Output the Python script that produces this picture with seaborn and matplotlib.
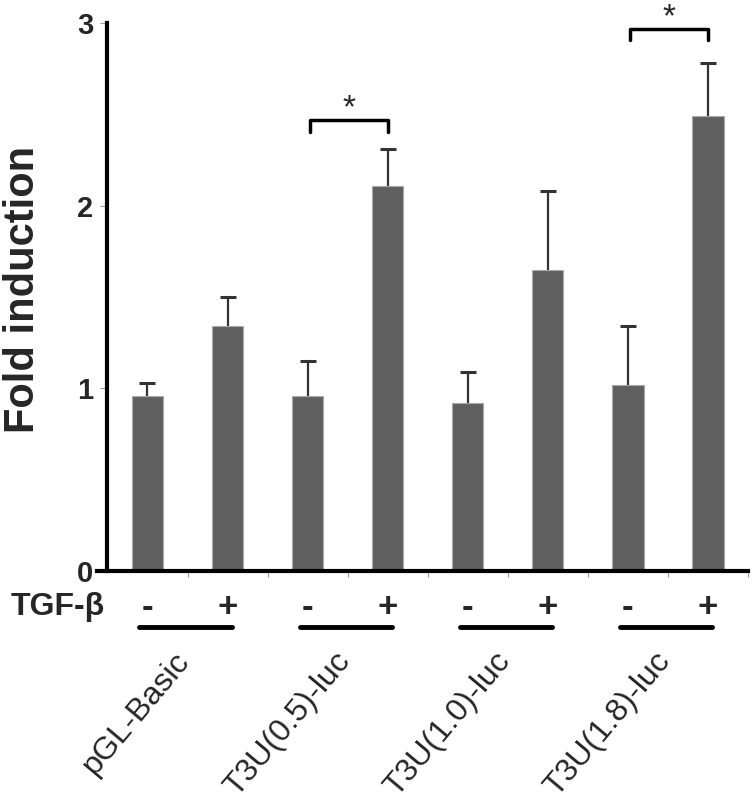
import numpy as np
import pandas as pd
import matplotlib
matplotlib.use("Agg")
import matplotlib.pyplot as plt
import seaborn as sns

# luciferase data, fold induction (mean and upper error)
constructs = ["pGL-Basic", "T3U(0.5)-luc", "T3U(1.0)-luc", "T3U(1.8)-luc"]
tgf = ["-", "+"]
means = [0.96, 1.34, 0.96, 2.11, 0.92, 1.65, 1.02, 2.49]
errs = [0.07, 0.16, 0.19, 0.20, 0.17, 0.43, 0.32, 0.29]
yticks = [0, 1, 2, 3]
# significant pairs (bar index)
sig_pairs = [(2, 3), (6, 7)]

bars = [c + " " + t for c in constructs for t in tgf]
df = pd.DataFrame({"bar": bars, "fold": means, "err": errs})

sns.set_style("ticks")
plt.rcParams['font.family'] = ['Liberation Sans', 'DejaVu Sans']

fig = plt.figure(figsize=(7.55, 8.05), dpi=100)
ax = fig.add_axes([0.1285, 0.2907, 0.8623, 0.6807])

sns.barplot(data=df, x="bar", y="fold", color="#5f5f5f", saturation=1,
            width=0.39, edgecolor="#a8a8a8", linewidth=0.8, ax=ax)

x = np.arange(len(df))
top = df["fold"] + df["err"]
ax.vlines(x, df["fold"], top, color="#333333", linewidth=1.6, zorder=3)
ax.plot(x, top, ls="none", marker="_", ms=11, mew=2.2, color="#333333", zorder=3)

ax.set_xlim(-0.63, 7.5)
ax.set_ylim(0, 3)
ax.spines['left'].set_position(('data', -0.5))
ax.spines['right'].set_visible(False)
ax.spines['top'].set_visible(False)
ax.spines['left'].set_linewidth(3)
ax.spines['bottom'].set_linewidth(3)
ax.spines['left'].set_color('black')
ax.spines['bottom'].set_color('black')

ax.set_yticks(yticks)
ax.set_yticklabels([str(v) for v in yticks], fontsize=21, fontweight='bold')
ax.tick_params(axis='y', length=5, width=0.8, color='#999999', pad=5)
ax.set_xticks(np.arange(0.5, 8, 1))
ax.set_xticklabels([])
ax.tick_params(axis='x', length=4, width=0.8, color='#999999')
ax.set_xlabel("")
ax.set_ylabel("Fold induction", fontsize=30, fontweight='bold')
ax.yaxis.set_label_coords(-0.083, 0.513)

# significance brackets
for a, b in sig_pairs:
    h = max(top[a], top[b])
    yb = h + 0.16 if b == 3 else h + 0.19
    ax.plot([a + 0.03, a + 0.03, b, b], [yb - 0.065, yb, yb, yb - 0.065],
            color='black', lw=2.5, solid_joinstyle='round', clip_on=False)
    ax.text((a + b + 0.03) / 2, yb - 0.025, "*", fontsize=24, ha='center',
            va='bottom', clip_on=False)

# TGF-beta row and construct labels under the axis
trans = ax.get_xaxis_transform()
ax.text(0.012, -0.066, "TGF-β", transform=ax.transAxes, ha='right',
        va='center', fontsize=23, fontweight='bold')
for i, b in enumerate(bars):
    ax.text(i, -0.066, b.split()[-1], transform=trans, ha='center',
            va='center', fontsize=25, fontweight='bold')
for g, c in enumerate(constructs):
    ax.plot([2 * g - 0.1, 2 * g + 1.05], [-0.102, -0.102], transform=trans,
            color='black', lw=3.5, clip_on=False)
    ax.text(2 * g + 0.32, -0.138, c, transform=trans, ha='right', va='top',
            rotation=50, rotation_mode='anchor', fontsize=23)

fig.savefig("out.png", dpi=100)
